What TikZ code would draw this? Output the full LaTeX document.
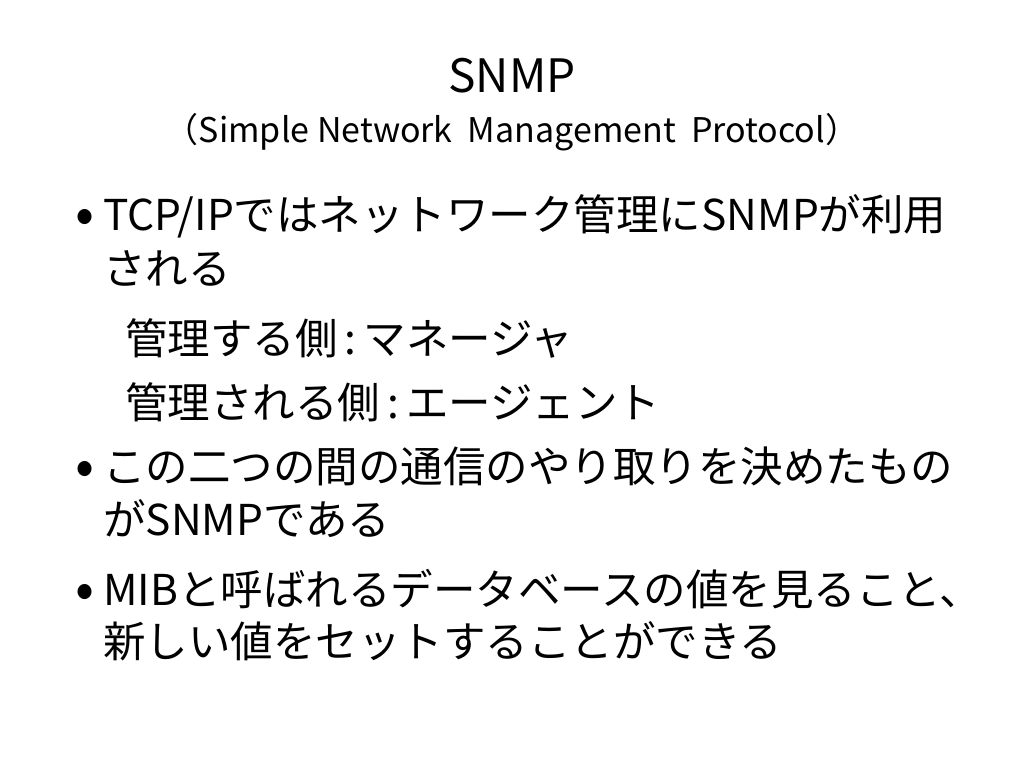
\documentclass[tikz,border=0pt]{standalone}
\usepackage{fontspec}
\setmainfont{Noto Sans CJK JP}
\tikzset{
  titletext/.style={anchor=base,inner sep=0pt,font=\fontsize{46}{52}\selectfont},
  subtext/.style={anchor=base,inner sep=0pt,font=\fontsize{34}{40}\selectfont},
  bodytext/.style={anchor=base west,inner sep=0pt,font=\fontsize{42.5}{50}\selectfont},
  dot/.style={anchor=base west,inner sep=0pt,font=\fontsize{56}{56}\selectfont}
}
\begin{document}
\begin{tikzpicture}[x=1pt,y=-1pt]
        \useasboundingbox[fill=white] (0,0) rectangle (1024,768);
        \node[titletext] (title) at (512,92) {SNMP};
        \node[subtext] (subtitle) at (512,142) {（Simple Network\ \ Management\ \ Protocol）};
        % bullet one
        \node[dot] (dotA) at (75,233) {•};
        \node[bodytext] (lineA) at (103,230) {TCP/IPではネットワーク管理にSNMPが利用};
        \node[bodytext] (lineB) at (103,284) {される};
        \node[bodytext] (manager) at (125,354) {管理する側\,:\,マネージャ};
        \node[bodytext] (agent) at (125,418) {管理される側\,:\,エージェント};
        % bullet two
        \node[dot] (dotB) at (75,485) {•};
        \node[bodytext] (lineC) at (103,482) {この二つの間の通信のやり取りを決めたもの};
        \node[bodytext] (lineD) at (103,535) {がSNMPである};
        % bullet three
        \node[dot] (dotC) at (75,608) {•};
        \node[bodytext] (lineE) at (103,605) {MIBと呼ばれるデータベースの値を見ること、};
        \node[bodytext] (lineF) at (103,657) {新しい値をセットすることができる};
\end{tikzpicture}
\end{document}
